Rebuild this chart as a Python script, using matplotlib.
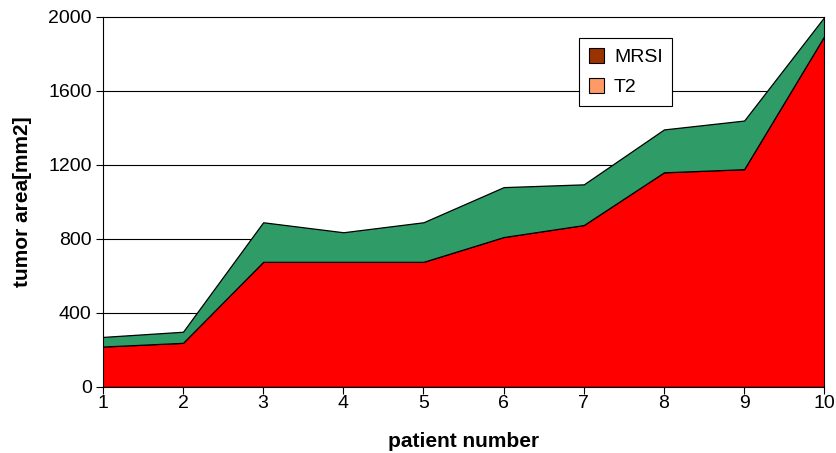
import matplotlib
matplotlib.use('Agg')
import matplotlib.pyplot as plt
from matplotlib.patches import Patch

patients = [1, 2, 3, 4, 5, 6, 7, 8, 9, 10]
t2_area = [218, 238, 676, 676, 676, 810, 875, 1160, 1177, 1897]
total_area = [270, 298, 890, 836, 890, 1080, 1095, 1392, 1440, 2000]
mrsi_extra = [t - r for t, r in zip(total_area, t2_area)]
y_ticks = [0, 400, 800, 1200, 1600, 2000]

plt.rcParams['font.family'] = ['Liberation Sans', 'DejaVu Sans']

fig = plt.figure(figsize=(8.36, 4.53), dpi=100)
ax = fig.add_axes([0.123, 0.146, 0.863, 0.8165])

for y in y_ticks[1:-1]:
    ax.axhline(y, color='black', lw=0.8, zorder=0)

ax.stackplot(patients, t2_area, mrsi_extra,
             colors=['#FF0000', '#2F9C68'],
             edgecolor='black', linewidth=0.9, zorder=2)

ax.set_xlim(1, 10)
ax.set_ylim(0, 2000)
ax.set_xticks(patients)
ax.set_yticks(y_ticks)
ax.tick_params(labelsize=14, length=5, width=0.8, direction='out')
ax.tick_params(axis='x', pad=1)
ax.tick_params(axis='y', pad=3)
for s in ax.spines.values():
    s.set_linewidth(0.8)
    s.set_zorder(3)

ax.set_xlabel('patient number', fontsize=15, fontweight='bold', labelpad=14)
ax.set_ylabel('tumor area[mm2]', fontsize=15, fontweight='bold', labelpad=12)

handles = [Patch(facecolor='#993300', edgecolor='black', lw=0.8, label='MRSI'),
           Patch(facecolor='#FF9966', edgecolor='black', lw=0.8, label='T2')]
leg = ax.legend(handles=handles, loc='upper left', bbox_to_anchor=(0.66, 0.943),
                fontsize=14, fancybox=False, framealpha=1, edgecolor='black',
                handlelength=0.8, handleheight=0.8, handletextpad=0.5,
                borderpad=0.5, labelspacing=0.6, borderaxespad=0)
leg.get_frame().set_linewidth(0.8)
leg.set_zorder(5)

fig.savefig('out.png', dpi=100)
